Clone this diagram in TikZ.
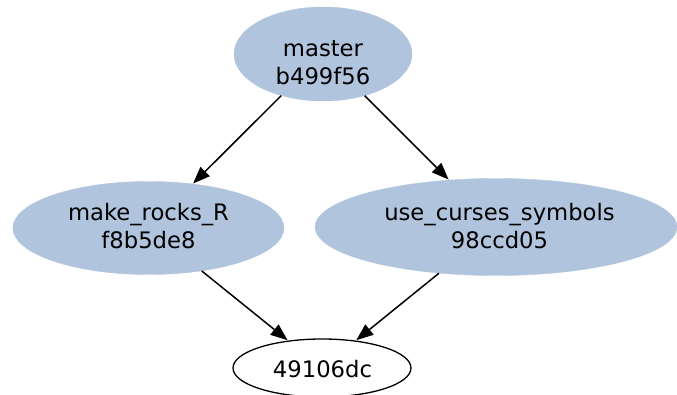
\documentclass[tikz,border=0pt]{standalone}
\usepackage{fontspec}
\setmainfont{DejaVu Sans}
\usetikzlibrary{arrows.meta,shapes.geometric}
\definecolor{steelfill}{HTML}{B0C4DE}
\begin{document}
\begin{tikzpicture}[x=1pt,y=1pt,
  bluenode/.style={ellipse, fill=steelfill, draw=steelfill, inner sep=0pt},
  whitenode/.style={ellipse, fill=white, draw=black, line width=1.3pt, inner sep=0pt},
  txt/.style={anchor=base, inner sep=0pt, font=\fontsize{22.7}{27}\selectfont, text=black},
  edge/.style={draw=black, line width=1.5pt, -{Triangle[length=17pt,width=13pt]}, shorten >=0.5pt}
]
\useasboundingbox (0,0) rectangle (677,394);
\node[bluenode, minimum width=178pt, minimum height=94pt] (m) at (323,340) {};
\node[bluenode, minimum width=271pt, minimum height=93pt] (mk) at (148.5,166) {};
\node[bluenode, minimum width=362pt, minimum height=97pt] (uc) at (496,167) {};
\node[whitenode, minimum width=178pt, minimum height=58pt] (b) at (322,26) {};
\node[txt] (m1) at (323,337) {master};
\node[txt] (m2) at (323,309) {b499f56};
\node[txt] (k1) at (148.5,174) {make\_rocks\_R};
\node[txt] (k2) at (148.5,146) {f8b5de8};
\node[txt] (u1) at (499.5,174) {use\_curses\_symbols};
\node[txt] (u2) at (499.5,146) {98ccd05};
\node[txt] (b1) at (322.5,17) {49106dc};
\draw[edge] (m) -- (mk);
\draw[edge] (m) -- (uc);
\draw[edge] (mk) -- (b);
\draw[edge] (uc) -- (b);
\end{tikzpicture}
\end{document}
